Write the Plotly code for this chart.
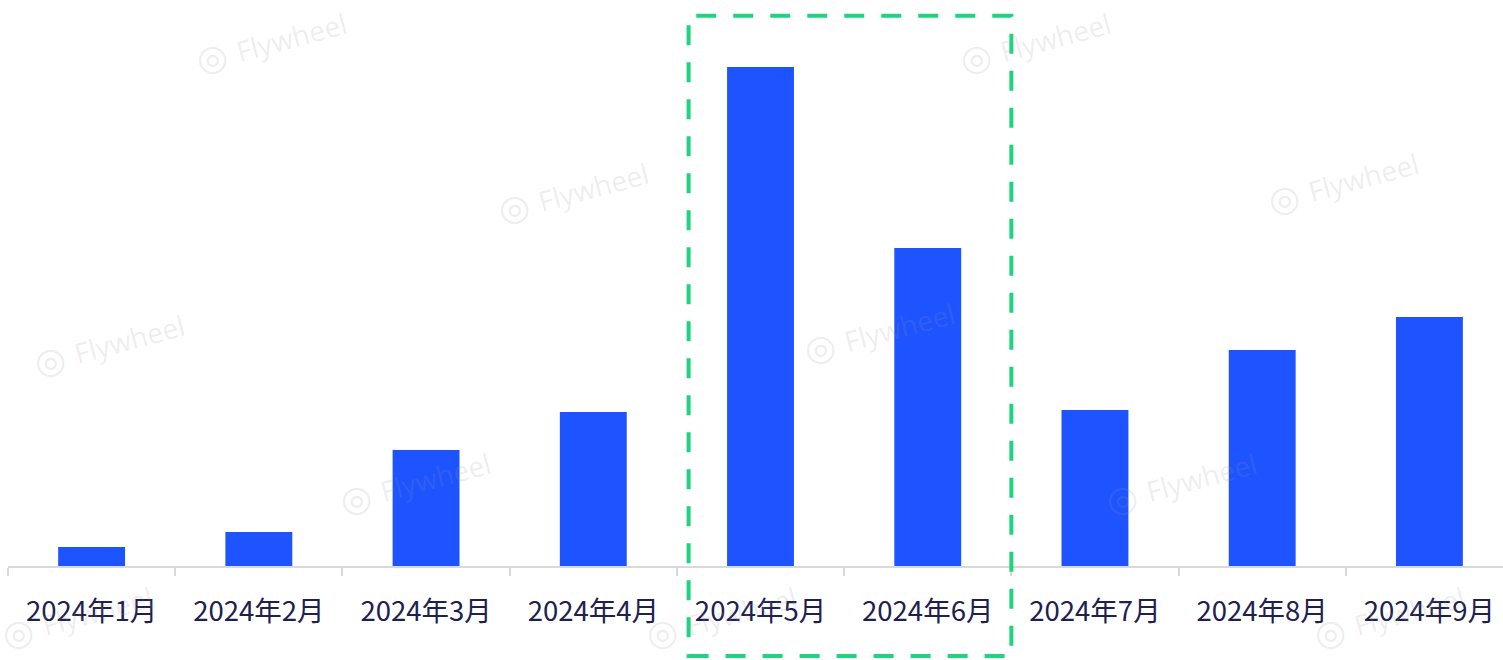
import math
import plotly.graph_objects as go

# Monthly values (bar heights)
months = ["2024年1月", "2024年2月", "2024年3月", "2024年4月", "2024年5月",
          "2024年6月", "2024年7月", "2024年8月", "2024年9月"]
values = [19, 34, 116, 154, 499, 318, 156, 216, 249]

# Highlighted months (May–June)
highlight_start = "2024年5月"
highlight_end = "2024年6月"

W, H = 1503, 660
ML, MR, MT, MB = 8, 0, 0, 94
plot_w = W - ML - MR
plot_h = H - MT - MB

fig = go.Figure()
fig.add_trace(go.Bar(
    x=months,
    y=values,
    width=0.4,
    marker=dict(color="#1e54ff", line=dict(width=0)),
    hoverinfo="x+y",
))

i0 = months.index(highlight_start)
i1 = months.index(highlight_end)

# Dashed highlight box around the selected months
fig.add_shape(
    type="rect",
    xref="x", yref="paper",
    x0=i0 - 0.43, x1=i1 + 0.5,
    y0=-0.159, y1=0.972,
    line=dict(color="#20d47f", width=4, dash="20px,17px"),
    fillcolor="rgba(0,0,0,0)",
    layer="above",
)

# Faint "Flywheel" watermarks: (logo x, logo y) in pixels
wm_pos = [(212, 58), (514, 208), (50, 360), (356, 498), (976, 58),
          (820, 348), (1284, 198), (1122, 498), (662, 632), (1330, 632), (18, 632)]
angle = -15
wm_color = "rgba(150,150,150,0.17)"
annotations = []
for px, py in wm_pos:
    annotations.append(dict(
        text="◎",
        xref="paper", yref="paper",
        x=(px - ML) / plot_w, y=(H - MB - py) / plot_h,
        showarrow=False,
        font=dict(family="DejaVu Sans, sans-serif", size=36, color=wm_color),
        xanchor="center", yanchor="middle",
    ))
    # text placed to the right of the logo along the rotated baseline
    d = 82
    tx = px + d * math.cos(math.radians(angle))
    ty = py + d * math.sin(math.radians(angle))
    annotations.append(dict(
        text="Flywheel",
        xref="paper", yref="paper",
        x=(tx - ML) / plot_w, y=(H - MB - ty) / plot_h,
        showarrow=False, textangle=angle,
        font=dict(family="Open Sans, DejaVu Sans, sans-serif", size=28, color=wm_color),
        xanchor="center", yanchor="middle",
    ))

fig.update_layout(
    width=W, height=H,
    margin=dict(l=ML, r=MR, t=MT, b=MB, pad=0),
    paper_bgcolor="white", plot_bgcolor="white",
    showlegend=False,
    annotations=annotations,
    xaxis=dict(
        type="category",
        categoryorder="array", categoryarray=months,
        range=[-0.5, 8.44],
        showline=True, linecolor="#d9d9d9", linewidth=2,
        ticks="outside", ticklen=8, tickcolor="#d9d9d9", tickwidth=2,
        tickson="boundaries",
        showgrid=False, zeroline=False,
        tickfont=dict(family="Noto Sans CJK SC, sans-serif", size=27.5, color="#20204e"),
        ticklabelstandoff=20,
    ),
    yaxis=dict(
        range=[0, plot_h],
        visible=False, showgrid=False, zeroline=False,
    ),
)

fig.write_html("out.html")
